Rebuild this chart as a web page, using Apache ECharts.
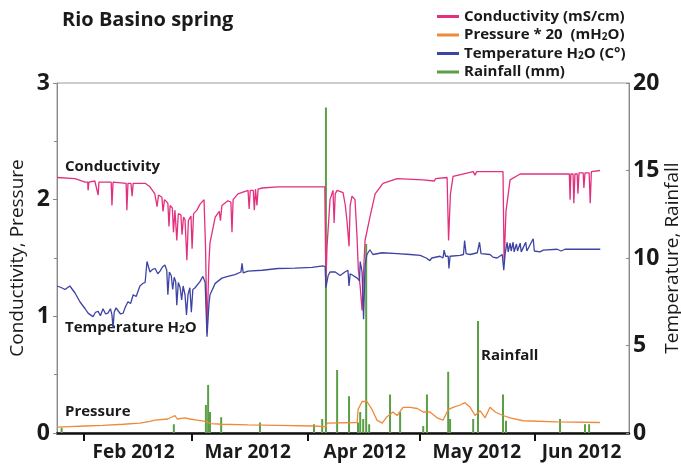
<!DOCTYPE html>
<html>
<head>
<meta charset="utf-8">
<title>Rio Basino spring</title>
<script src="https://cdn.jsdelivr.net/npm/echarts@6/dist/echarts.min.js"></script>
<style>
  html, body { margin: 0; padding: 0; background: #fff; }
  #chart { width: 681px; height: 475px; }
</style>
</head>
<body>
<div id="chart"></div>
<script>
// x values are days counted from 1 Feb 2012
const monthStarts = [0, 29, 60, 90, 121]
const monthLabels = ['Feb 2012', 'Mar 2012', 'Apr 2012', 'May 2012', 'Jun 2012']
const monthLabelDays = [13.3, 43.9, 75.3, 105.4, 133.5]

// mS/cm, left axis
const conductivity = [
  [-7.2, 2.19], [-2.4, 2.18], [0.3, 2.15], [1.0, 2.15], [1.1, 2.08], [1.3, 2.15], [2.9, 2.16], [3.8, 2.04],
  [4.0, 2.15], [7.3, 2.15], [7.5, 1.95], [7.8, 2.15], [11.3, 2.14], [11.5, 1.91], [11.8, 2.14], [12.6, 2.14],
  [12.9, 2.03], [13.2, 2.14], [16.4, 2.14], [17.7, 2.11], [19.0, 2.05], [19.6, 1.94], [20.0, 2.04], [20.9, 2.02],
  [21.2, 1.9], [21.6, 2.0], [22.5, 1.97], [22.8, 1.77], [23.1, 1.95], [23.7, 1.93], [24.0, 1.72], [24.4, 1.91],
  [24.9, 1.65], [25.3, 1.88], [26.0, 1.87], [26.3, 1.7], [26.7, 1.85], [27.1, 1.83], [27.6, 1.48], [28.0, 1.82],
  [28.7, 1.86], [29.0, 1.58], [29.4, 1.88], [30.3, 1.91], [31.1, 1.96], [32.2, 2.0], [32.6, 1.6], [33.0, 0.86],
  [33.5, 1.45], [33.8, 1.63], [35.2, 1.85], [36.3, 1.9], [36.6, 1.82], [37.0, 1.95], [38.6, 1.99], [39.4, 1.98],
  [39.7, 1.72], [40.0, 2.0], [41.3, 2.05], [44.0, 2.08], [44.3, 1.92], [44.6, 2.08], [45.4, 2.08], [45.7, 1.91],
  [46.0, 2.09], [46.4, 1.95], [46.7, 2.09], [47.8, 2.1], [52.0, 2.11], [64.6, 2.11], [64.9, 1.3], [65.2, 1.6],
  [66.0, 2.0], [66.8, 2.08], [67.1, 1.8], [67.4, 2.05], [67.9, 2.08], [69.5, 2.06], [70.1, 1.95], [70.6, 1.8],
  [71.1, 1.6], [71.4, 1.95], [71.9, 2.03], [72.7, 2.0], [73.2, 1.71], [73.6, 1.4], [74.1, 1.25], [74.6, 1.05],
  [75.1, 1.45], [75.4, 1.65], [76.7, 1.85], [78.1, 2.05], [80.2, 2.14], [84.0, 2.18], [90.9, 2.17], [94.0, 2.16],
  [94.3, 2.18], [97.4, 2.19], [97.8, 1.65], [98.3, 2.05], [99.0, 2.2], [104.4, 2.24], [104.9, 2.21], [105.3, 2.24],
  [112.4, 2.24], [112.7, 1.46], [113.2, 1.9], [114.3, 2.17], [117.0, 2.22], [130.2, 2.22], [130.4, 2.0], [130.6, 2.22],
  [131.2, 2.22], [131.4, 1.97], [131.7, 2.22], [132.3, 2.22], [132.5, 2.05], [132.8, 2.23], [133.9, 2.23], [134.1, 2.1],
  [134.4, 2.23], [135.5, 2.23], [135.8, 1.97], [136.1, 2.24], [138.4, 2.25]
]

// °C, right axis
const temperature = [
  [-7.2, 8.4], [-6.0, 8.3], [-5.1, 8.2], [-3.8, 8.4], [-2.4, 8.0], [-1.1, 7.5], [0.3, 7.1], [1.1, 6.85],
  [2.4, 6.65], [3.1, 6.9], [3.8, 6.95], [4.4, 6.7], [5.1, 7.1], [5.8, 6.8], [6.4, 6.85], [7.1, 7.1],
  [7.5, 6.75], [7.8, 6.0], [8.1, 6.9], [8.6, 7.15], [9.1, 7.0], [9.8, 6.8], [10.5, 6.85], [11.1, 7.2],
  [11.8, 7.5], [12.5, 7.4], [13.2, 7.9], [14.0, 7.8], [15.0, 8.4], [15.8, 8.55], [16.4, 8.6], [16.9, 9.8],
  [17.3, 9.5], [17.7, 9.2], [18.4, 9.35], [19.1, 9.4], [19.8, 9.1], [20.4, 9.25], [21.1, 9.5], [21.7, 9.6],
  [22.2, 9.3], [22.5, 7.9], [22.9, 9.2], [23.4, 9.0], [23.8, 8.2], [24.2, 8.9], [24.6, 8.65], [24.9, 7.3],
  [25.3, 8.6], [25.8, 8.3], [26.2, 7.6], [26.6, 8.4], [27.1, 7.9], [27.5, 6.75], [27.9, 7.9], [28.4, 8.3],
  [28.8, 6.9], [29.2, 8.2], [29.8, 8.3], [31.1, 8.65], [31.9, 8.95], [32.5, 8.6], [33.0, 5.5], [33.5, 7.3],
  [33.8, 7.9], [35.2, 8.55], [37.0, 8.85], [38.6, 8.95], [40.5, 9.05], [42.1, 9.2], [42.4, 9.7], [42.7, 9.15],
  [44.0, 9.25], [47.8, 9.3], [52.0, 9.4], [56.6, 9.42], [61.2, 9.46], [64.1, 9.55], [64.7, 9.5], [64.9, 8.3],
  [65.5, 9.0], [66.0, 9.2], [67.4, 9.2], [68.7, 9.0], [70.0, 9.2], [70.8, 9.3], [71.1, 8.4], [71.4, 9.1],
  [72.2, 9.0], [73.3, 8.85], [73.9, 8.7], [74.1, 9.8], [74.6, 9.2], [75.0, 6.5], [75.4, 9.6], [75.9, 10.2],
  [76.7, 10.47], [77.5, 10.2], [80.0, 10.3], [84.0, 10.25], [87.5, 10.2], [90.2, 10.15], [91.8, 10.0], [92.8, 9.85],
  [93.3, 10.0], [95.5, 10.1], [96.3, 10.0], [96.6, 10.45], [97.0, 10.1], [97.7, 10.1], [97.9, 9.4], [98.2, 10.1],
  [100.9, 10.15], [101.8, 10.2], [102.1, 11.0], [102.5, 10.25], [103.6, 10.2], [104.1, 10.25], [105.5, 10.3], [106.1, 10.9],
  [106.5, 10.25], [108.9, 10.2], [109.7, 10.05], [110.8, 10.0], [112.2, 10.2], [112.6, 9.3], [113.0, 10.3], [113.5, 10.9],
  [113.8, 10.35], [114.3, 10.85], [114.6, 10.4], [115.1, 10.9], [115.4, 10.35], [116.0, 10.8], [116.3, 10.4], [117.0, 10.85],
  [117.3, 10.35], [118.5, 10.9], [118.8, 10.4], [120.5, 11.1], [120.8, 10.4], [122.3, 10.35], [123.2, 10.45], [126.9, 10.5],
  [128.0, 10.4], [129.0, 10.5], [138.5, 10.5]
]

// pressure * 20 (mH2O), left axis
const pressure = [
  [-7.2, 0.05], [-3.8, 0.055], [0.3, 0.06], [5.1, 0.065], [10.5, 0.075], [15.0, 0.085], [17.7, 0.1], [19.0, 0.11],
  [22.5, 0.12], [24.4, 0.15], [25.0, 0.12], [27.1, 0.13], [28.4, 0.12], [30.3, 0.11], [32.5, 0.1], [34.0, 0.08],
  [37.0, 0.075], [44.0, 0.07], [52.0, 0.065], [61.2, 0.06], [64.9, 0.055], [65.2, 0.085], [73.3, 0.09], [73.5, 0.2],
  [74.6, 0.27], [75.9, 0.27], [77.3, 0.2], [78.6, 0.11], [80.0, 0.085], [81.3, 0.14], [82.9, 0.18], [84.0, 0.15],
  [85.6, 0.22], [87.5, 0.22], [89.4, 0.21], [91.0, 0.18], [92.8, 0.18], [94.7, 0.13], [96.3, 0.11], [97.7, 0.2],
  [99.0, 0.22], [100.9, 0.24], [102.2, 0.26], [103.6, 0.22], [104.9, 0.15], [106.3, 0.19], [107.6, 0.13], [108.9, 0.22],
  [110.3, 0.18], [112.4, 0.15], [114.3, 0.13], [117.8, 0.105], [126.9, 0.095], [138.4, 0.09]
]

// mm, right axis
const rainfall = [
  [-6.0, 0.3], [24.1, 0.5], [32.7, 1.6], [33.3, 2.75], [33.8, 1.2], [36.8, 0.9], [47.2, 0.6], [61.7, 0.5],
  [63.9, 0.8], [64.9, 18.6], [67.9, 3.6], [71.1, 2.1], [73.5, 0.6], [74.1, 1.2], [74.9, 0.8], [75.7, 10.8],
  [76.5, 0.5], [82.1, 2.2], [84.8, 1.2], [91.0, 0.4], [92.0, 2.2], [97.7, 3.5], [98.2, 0.8], [104.4, 0.8],
  [105.7, 6.4], [112.4, 2.2], [113.2, 0.7], [127.7, 0.8], [134.4, 0.5], [135.5, 0.5]
]

const font = "'Open Sans', 'Noto Sans', sans-serif"
const ink = '#1a1a1a'
const subStyle = { fontSize: 10, fontWeight: 'bold', fontFamily: font, color: ink, lineHeight: 11, verticalAlign: 'bottom' }

function plotLabel(text, x, y) {
  return {
    type: 'text',
    x: x,
    y: y,
    style: {
      text: text,
      fill: ink,
      font: 'bold 15px ' + font,
      verticalAlign: 'middle',
      rich: {
        s: { fontSize: 10, fontWeight: 'bold', fontFamily: font, fill: ink, lineHeight: 11, verticalAlign: 'bottom' }
      }
    }
  }
}

const chart = echarts.init(document.getElementById('chart'))

chart.setOption({
  animation: false,
  backgroundColor: '#fff',
  grid: {
    left: 57,
    right: 52,
    top: 83,
    bottom: 42,
    outerBoundsMode: 'none',
    show: true,
    borderColor: '#9a9a9a',
    borderWidth: 1
  },
  legend: {
    orient: 'vertical',
    left: 432,
    top: 4,
    itemWidth: 22,
    itemHeight: 3,
    itemGap: 3.5,
    icon: 'rect',
    data: ['Conductivity (mS/cm)', 'Pressure * 20  (mH2O)', 'Temperature H2O (C°)', 'Rainfall (mm)'],
    formatter: name => name.replace('H2O', 'H{s|2}O'),
    textStyle: {
      fontFamily: font,
      fontSize: 15,
      fontWeight: 'bold',
      color: ink,
      lineHeight: 15,
      rich: { s: subStyle }
    }
  },
  graphic: [
    {
      type: 'text',
      x: 62,
      y: 20,
      style: { text: 'Rio Basino spring', font: 'bold 20px ' + font, fill: ink, verticalAlign: 'middle' }
    },
    plotLabel('Conductivity', 65, 167),
    plotLabel('Temperature H{s|2}O', 65, 328),
    plotLabel('Pressure', 65, 412),
    plotLabel('Rainfall', 481, 356)
  ],
  xAxis: {
    type: 'value',
    min: -7.24,
    max: 146.2,
    splitLine: { show: false },
    axisLine: { onZero: false, lineStyle: { color: '#111', width: 2.5 } },
    axisTick: {
      customValues: monthStarts,
      length: 8,
      lineStyle: { color: '#111', width: 2 }
    },
    axisLabel: {
      customValues: monthLabelDays,
      formatter: v => {
        let best = 0
        monthLabelDays.forEach((d, i) => {
          if (Math.abs(d - v) < Math.abs(monthLabelDays[best] - v)) best = i
        })
        return monthLabels[best]
      },
      fontFamily: font,
      fontSize: 19,
      fontWeight: 'bold',
      color: ink,
      margin: 10
    }
  },
  yAxis: [
    {
      type: 'value',
      min: 0,
      max: 3,
      interval: 1,
      position: 'left',
      name: 'Conductivity, Pressure',
      nameLocation: 'middle',
      nameRotate: 90,
      nameGap: 30,
      nameMoveOverlap: false,
      nameTextStyle: { fontFamily: font, fontSize: 19, color: ink },
      axisLine: { show: true, onZero: false, lineStyle: { color: '#8a8a8a' } },
      axisTick: { show: true, length: 4, lineStyle: { color: '#8a8a8a' } },
      minorTick: { show: true, splitNumber: 2, length: 3, lineStyle: { color: '#8a8a8a' } },
      splitLine: { show: false },
      axisLabel: { fontFamily: font, fontSize: 23, fontWeight: 'bold', color: ink, margin: 7 }
    },
    {
      type: 'value',
      min: 0,
      max: 20,
      interval: 5,
      position: 'right',
      name: 'Temperature, Rainfall',
      nameLocation: 'middle',
      nameRotate: 90,
      nameGap: 34,
      nameMoveOverlap: false,
      nameTextStyle: { fontFamily: font, fontSize: 19, color: ink },
      axisLine: { show: true, onZero: false, lineStyle: { color: '#8a8a8a' } },
      axisTick: { show: true, inside: true, length: 3, lineStyle: { color: '#8a8a8a' } },
      splitLine: { show: false },
      axisLabel: { fontFamily: font, fontSize: 23, fontWeight: 'bold', color: ink, margin: 4 }
    }
  ],
  series: [
    {
      name: 'Conductivity (mS/cm)',
      type: 'line',
      yAxisIndex: 0,
      data: conductivity,
      showSymbol: false,
      itemStyle: { color: '#e2307e' },
      lineStyle: { color: '#e2307e', width: 1.3 }
    },
    {
      name: 'Pressure * 20  (mH2O)',
      type: 'line',
      yAxisIndex: 0,
      data: pressure,
      showSymbol: false,
      itemStyle: { color: '#ee8a3a' },
      lineStyle: { color: '#ee8a3a', width: 1.3 }
    },
    {
      name: 'Temperature H2O (C°)',
      type: 'line',
      yAxisIndex: 1,
      data: temperature,
      showSymbol: false,
      itemStyle: { color: '#3d44a3' },
      lineStyle: { color: '#3d44a3', width: 1.3 }
    },
    {
      name: 'Rainfall (mm)',
      type: 'bar',
      yAxisIndex: 1,
      data: rainfall,
      barWidth: 2,
      itemStyle: { color: '#5a9e46' }
    }
  ]
})
</script>
</body>
</html>
